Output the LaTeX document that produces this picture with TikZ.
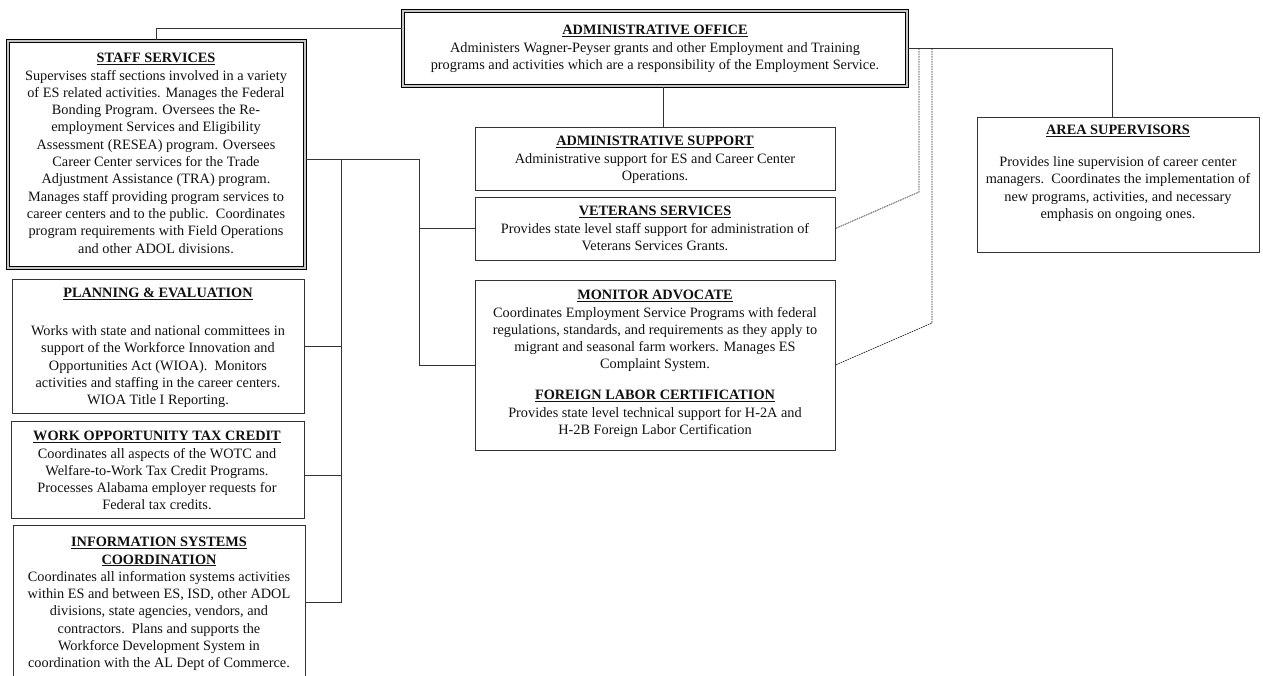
\documentclass[tikz,border=0pt]{standalone}
\usepackage{fontspec}
\setmainfont{Liberation Serif}
\usetikzlibrary{fit}
\definecolor{ink}{HTML}{111111}
\definecolor{rule}{HTML}{333333}
\tikzset{
  box/.style={draw=rule, line width=0.9pt, inner sep=0pt, fill=white},
  headbox/.style={draw=black, line width=1.1pt, double=gray!45, double distance=1.5pt, inner sep=0pt, fill=white},
  conn/.style={draw=rule, line width=0.9pt},
  dashconn/.style={draw=black!85, line width=0.7pt, dash pattern=on 1.6pt off 0.9pt},
  txt/.style={align=center, inner sep=0pt, anchor=north, text=ink,
              font=\fontsize{14.3}{17.3}\selectfont},
}
\newcommand{\hd}[1]{\underline{\textbf{#1}}}
\begin{document}
\begin{tikzpicture}[x=1pt, y=-1pt]
\fill[white] (0,0) rectangle (1263,675);
\clip (0,0) rectangle (1263,675);

% ---- boxes ----
\node[headbox, fit={(403,11) (907,86)}]  (admin) {};
\node[headbox, fit={(8,41) (305,268)}]   (staff) {};
\node[box, fit={(475,127) (835,190)}]    (asup)  {};
\node[box, fit={(475,197) (835,260)}]    (vet)   {};
\node[box, fit={(475,280) (835,450)}]    (mon)   {};
\node[box, fit={(977,117) (1259,252)}]   (area)  {};
\node[box, fit={(12,279) (304,413)}]     (plan)  {};
\node[box, fit={(11,421) (304,518)}]     (wotc)  {};
\node[box, fit={(13,525) (305,679)}]     (isc)   {};

% ---- texts ----
\node[txt] (admin-t) at (655,22.4) {\strut\hd{ADMINISTRATIVE OFFICE}\\
  Administers Wagner-Peyser grants and other Employment and Training\\
  programs and activities which are a responsibility of the Employment Service.};

\node[txt] (staff-t) at (156,50.4) {\strut\hd{STAFF SERVICES}\\
  Supervises staff sections involved in a variety\\
  of ES related activities. Manages the Federal\\
  Bonding Program. Oversees the Re-\\
  employment Services and Eligibility\\
  Assessment (RESEA) program. Oversees\\
  Career Center services for the Trade\\
  Adjustment Assistance (TRA) program.\\
  Manages staff providing program services to\\
  career centers and to the public.\ \ Coordinates\\
  program requirements with Field Operations\\
  and other ADOL divisions.};

\node[txt] (asup-t) at (655,133.4) {\strut\hd{ADMINISTRATIVE SUPPORT}\\
  Administrative support for ES and Career Center\\
  Operations.};

\node[txt] (vet-t) at (655,203.4) {\strut\hd{VETERANS SERVICES}\\
  Provides state level staff support for administration of\\
  Veterans Services Grants.};

\node[txt] (mon-t) at (655,287.4) {\strut\hd{MONITOR ADVOCATE}\\
  Coordinates Employment Service Programs with federal\\
  regulations, standards, and requirements as they apply to\\
  migrant and seasonal farm workers. Manages ES\\
  Complaint System.\\[13.5pt]
  \hd{FOREIGN LABOR CERTIFICATION}\\
  Provides state level technical support for H-2A and\\
  H-2B Foreign Labor Certification};

\node[txt] (area-t) at (1118,122.4) {\strut\hd{AREA SUPERVISORS}\\[14.5pt]
  Provides line supervision of career center\\
  managers.\ \ Coordinates the implementation of\\
  new programs, activities, and necessary\\
  emphasis on ongoing ones.};

\node[txt] (plan-t) at (158,285.4) {\strut\hd{PLANNING \& EVALUATION}\\[20.5pt]
  Works with state and national committees in\\
  support of the Workforce Innovation and\\
  Opportunities Act (WIOA).\ \ Monitors\\
  activities and staffing in the career centers.\\
  WIOA Title I Reporting.};

\node[txt] (wotc-t) at (157,428.4) {\strut\hd{WORK OPPORTUNITY TAX CREDIT}\\
  Coordinates all aspects of the WOTC and\\
  Welfare-to-Work Tax Credit Programs.\\
  Processes Alabama employer requests for\\
  Federal tax credits.};

\node[txt] (isc-t) at (159,534.4) {\strut\hd{INFORMATION SYSTEMS}\\
  \hd{COORDINATION}\\
  Coordinates all information systems activities\\
  within ES and between ES, ISD, other ADOL\\
  divisions, state agencies, vendors, and\\
  contractors.\ \ Plans and supports the\\
  Workforce Development System in\\
  coordination with the AL Dept of Commerce.};

% ---- solid connectors ----
\draw[conn] (staff.north) |- ([yshift=20.5pt]admin.west);
\draw[conn] ([xshift=8pt]admin.south) -- ([xshift=8pt]asup.north);

\coordinate (busR) at (419,159);
\coordinate (busL) at (341,159);
\coordinate (wotcin) at ([yshift=-5.5pt]wotc.east);
\draw[conn] ([yshift=-4.5pt]staff.east) -- (busR) |- (mon.west);
\draw[conn] (busR |- vet.west) -- (vet.west);
\draw[conn] (busL) |- (isc.east);
\draw[conn] (busL |- plan.east) -- (plan.east);
\draw[conn] (busL |- wotcin) -- (wotcin);

\draw[conn] (admin.east) -| ([xshift=-6pt]area.north);

% ---- dashed connectors ----
\coordinate (d1) at (919,192);
\coordinate (d2) at (932,323);
\draw[dashconn] (admin.east -| d1) -- (d1) -- (vet.east);
\draw[dashconn] (admin.east -| d2) -- (d2) -- (mon.east);
\end{tikzpicture}
\end{document}
